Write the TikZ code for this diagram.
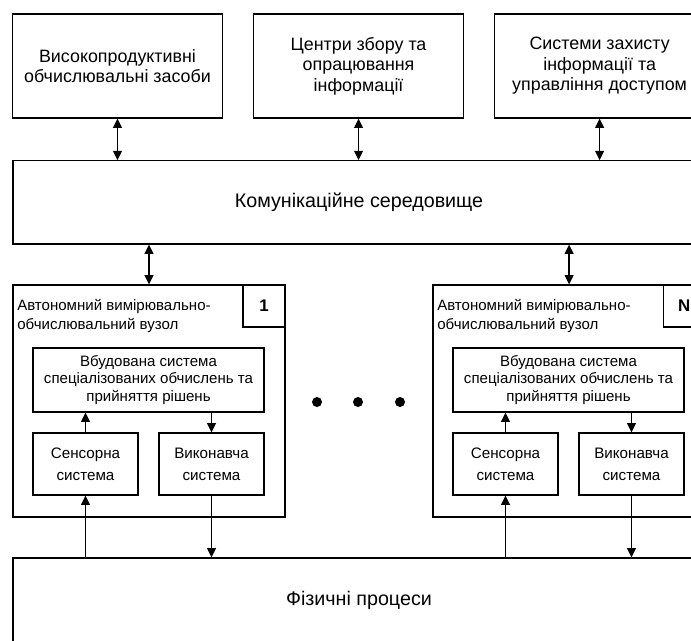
\documentclass[tikz,border=0pt]{standalone}
\usepackage{fontspec}
\setmainfont{Liberation Sans}
\usetikzlibrary{arrows.meta}

\tikzset{
  blk/.style={draw, line width=0.9pt, align=center, inner sep=2pt},
  link/.style={-{Triangle[length=2.3mm,width=2.2mm]}, line width=0.9pt},
  duplex/.style={{Triangle[length=2.3mm,width=2.2mm]}-{Triangle[length=2.3mm,width=2.2mm]}, line width=0.9pt}
}

\begin{document}
\begin{tikzpicture}[
  x=0.025cm, y=-0.025cm,
  font=\fontsize{12.7}{14.5}\selectfont
]
\useasboundingbox (0,0) rectangle (691,640);

% Upper level
\node[blk, minimum width=5.25cm, minimum height=2.6cm] (hpc) at (117.5,66) {Високопродуктивні\\обчислювальні засоби};
\node[blk, right of=hpc, node distance=6.025cm, minimum width=5.25cm, minimum height=2.6cm] (centres) {Центри збору та\\опрацювання\\інформації};
\node[blk, right of=centres, node distance=6.025cm, minimum width=5.25cm, minimum height=2.6cm] (secure) {Системи захисту\\інформації та\\управління доступом};

% Communication medium
\node[blk, minimum width=17.3cm, minimum height=2.08cm, font=\fontsize{14}{16}\selectfont] (comm) at (359,202.4) {Комунікаційне середовище};

% Node 1
\node[blk, minimum width=6.8cm, minimum height=5.8cm] (node1) at (149,401) {};
\node[blk, anchor=north east, minimum size=1.05cm, font=\bfseries\fontsize{12}{14}\selectfont] (num1) at (node1.north east) {1};
\node[anchor=north west, align=left, inner sep=0pt, font=\fontsize{10.7}{13.5}\selectfont] (title1) at (17,299) {Автономний вимірювально-\\обчислювальний вузол};
\node[blk, minimum width=5.775cm, minimum height=1.6cm, font=\fontsize{10.7}{12.4}\selectfont] (emb1) at (148.5,380) {Вбудована система\\спеціалізованих обчислень та\\прийняття рішень};
\node[blk, minimum width=2.625cm, minimum height=1.55cm, font=\fontsize{10.8}{15.6}\selectfont] (sens1) at (85.5,464) {Сенсорна\\система};
\node[blk, minimum width=2.625cm, minimum height=1.55cm, font=\fontsize{10.8}{15.6}\selectfont] (exec1) at (211.5,464) {Виконавча\\система};

% Node N
\node[blk, right of=node1, node distance=10.5cm, minimum width=6.8cm, minimum height=5.8cm] (nodeN) {};
\node[blk, anchor=north east, minimum size=1.05cm, font=\bfseries\fontsize{12}{14}\selectfont] (numN) at (nodeN.north east) {N};
\node[anchor=north west, align=left, inner sep=0pt, font=\fontsize{10.7}{13.5}\selectfont] (titleN) at (437,299) {Автономний вимірювально-\\обчислювальний вузол};
\node[blk, minimum width=5.775cm, minimum height=1.6cm, font=\fontsize{10.7}{12.4}\selectfont] (embN) at (568.5,380) {Вбудована система\\спеціалізованих обчислень та\\прийняття рішень};
\node[blk, minimum width=2.625cm, minimum height=1.55cm, font=\fontsize{10.8}{15.6}\selectfont] (sensN) at (505.5,464) {Сенсорна\\система};
\node[blk, minimum width=2.625cm, minimum height=1.55cm, font=\fontsize{10.8}{15.6}\selectfont] (execN) at (631.5,464) {Виконавча\\система};

% Dots between nodes
\fill (317,402) circle (1.25mm);
\fill (358,402) circle (1.25mm);
\fill (400,402) circle (1.25mm);

% Physical processes
\node[blk, minimum width=17.3cm, minimum height=2.1cm, font=\fontsize{14}{16}\selectfont] (phys) at (359,600) {Фізичні процеси};

% Links to the communication medium
\draw[duplex] (hpc.south) -- (hpc.south |- comm.north);
\draw[duplex] (centres.south) -- (centres.south |- comm.north);
\draw[duplex] (secure.south) -- (secure.south |- comm.north);
\draw[duplex] (node1.north |- comm.south) -- (node1.north);
\draw[duplex] (nodeN.north |- comm.south) -- (nodeN.north);

% Links inside the nodes
\draw[link] (sens1.north) -- (sens1.north |- emb1.south);
\draw[link] (exec1.north |- emb1.south) -- (exec1.north);
\draw[link] (sensN.north) -- (sensN.north |- embN.south);
\draw[link] (execN.north |- embN.south) -- (execN.north);

% Links to the physical processes
\draw[link] (sens1.south |- phys.north) -- (sens1.south);
\draw[link] (exec1.south) -- (exec1.south |- phys.north);
\draw[link] (sensN.south |- phys.north) -- (sensN.south);
\draw[link] (execN.south) -- (execN.south |- phys.north);
\end{tikzpicture}
\end{document}
